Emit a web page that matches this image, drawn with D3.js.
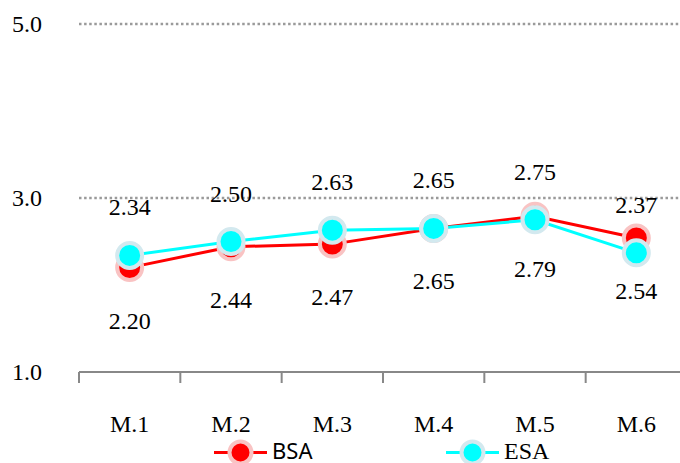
<!DOCTYPE html>
<html><head><meta charset="utf-8">
<script src="https://cdn.jsdelivr.net/npm/d3@7"></script>
<style>body{margin:0;background:#fff}svg{display:block}</style>
</head><body>
<svg id="c" width="680" height="463"></svg>
<script>
const categories = ["M.1","M.2","M.3","M.4","M.5","M.6"];
const bsa = [2.20, 2.44, 2.47, 2.65, 2.79, 2.54];
const esa = [2.34, 2.50, 2.63, 2.65, 2.75, 2.37];
const yTicks = [1.0, 3.0, 5.0];
const seriesNames = ["BSA","ESA"];

const svg = d3.select("#c");
const serif = "'Liberation Serif','Times New Roman',serif";
const x = d3.scaleBand().domain(categories).range([79, 687]);
const y = d3.scaleLinear().domain([1, 5]).range([372, 24]);

// gridlines
svg.append("g").selectAll("line").data(yTicks.filter(d => d > 1)).join("line")
  .attr("x1", 79).attr("x2", 680).attr("y1", d => y(d)).attr("y2", d => y(d))
  .attr("stroke", "#9a9a9a").attr("stroke-width", 2.5).attr("stroke-dasharray", "2.5,2.6");

// y labels
svg.append("g").selectAll("text").data(yTicks).join("text")
  .attr("x", 42).attr("y", d => y(d)).attr("dy", "0.33em").attr("text-anchor", "end")
  .attr("font-family", serif).attr("font-size", 24).attr("fill", "#000")
  .text(d => d.toFixed(1));

// x axis
const xAxis = svg.append("g").attr("transform", `translate(0,${y(1)})`);
xAxis.append("line").attr("x1", 79).attr("x2", 687).attr("stroke", "#888").attr("stroke-width", 2);
const bounds = categories.map(c => x(c)).concat([x(categories[categories.length-1]) + x.bandwidth()]);
xAxis.selectAll("line.t").data(bounds).join("line").attr("class","t")
  .attr("x1", d => d).attr("x2", d => d).attr("y1", 0).attr("y2", 11)
  .attr("stroke", "#888").attr("stroke-width", 2);
xAxis.selectAll("text").data(categories).join("text")
  .attr("x", d => x(d) + x.bandwidth()/2).attr("y", 60).attr("text-anchor", "middle")
  .attr("font-family", serif).attr("font-size", 24).attr("fill", "#000").text(d => d);

const cx = i => x(categories[i]) + x.bandwidth()/2;
const line = d3.line().x((d, i) => cx(i)).y(d => y(d));

const series = [
  {name: "BSA", values: bsa, color: "#ff0000", halo: "#f9c3c3", labelDy: 61},
  {name: "ESA", values: esa, color: "#00ffff", halo: "#d3e9ef", labelDy: -40}
];

series.forEach(s => {
  svg.append("path").datum(s.values).attr("d", line)
    .attr("fill", "none").attr("stroke", s.color).attr("stroke-width", 3);
});
series.forEach(s => {
  svg.append("g").selectAll("circle").data(s.values).join("circle")
    .attr("cx", (d, i) => cx(i)).attr("cy", d => y(d)).attr("r", 12.5)
    .attr("fill", s.color).attr("stroke", s.halo).attr("stroke-width", 4);
});
series.forEach(s => {
  svg.append("g").selectAll("text").data(s.values).join("text")
    .attr("x", (d, i) => cx(i)).attr("y", d => y(d) + s.labelDy).attr("text-anchor", "middle")
    .attr("font-family", serif).attr("font-size", 24).attr("fill", "#000")
    .text(d => d.toFixed(2));
});

// legend
const leg = [
  {s: series[0], x0: 214, font: "'Noto Sans','Open Sans',sans-serif", size: 22},
  {s: series[1], x0: 446, font: serif, size: 24}
];
leg.forEach(l => {
  const g = svg.append("g");
  const ly = 452.5;
  g.append("line").attr("x1", l.x0).attr("x2", l.x0 + 53).attr("y1", ly).attr("y2", ly)
    .attr("stroke", l.s.color).attr("stroke-width", 3);
  g.append("circle").attr("cx", l.x0 + 26.5).attr("cy", ly).attr("r", 11)
    .attr("fill", l.s.color).attr("stroke", l.s.halo).attr("stroke-width", 4);
  g.append("text").attr("x", l.x0 + 58).attr("y", 458.5)
    .attr("font-family", l.font).attr("font-size", l.size).attr("fill", "#000").text(l.s.name);
});
</script>
</body></html>
